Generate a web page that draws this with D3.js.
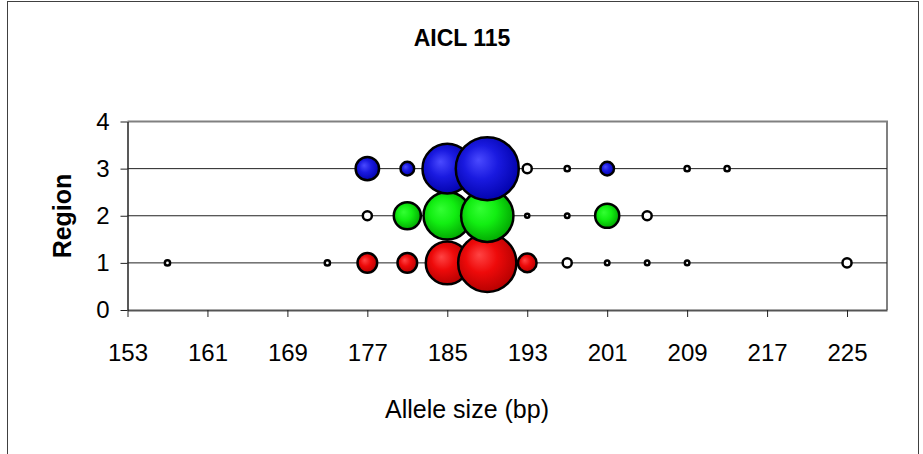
<!DOCTYPE html>
<html>
<head>
<meta charset="utf-8">
<script src="https://cdn.jsdelivr.net/npm/d3@7"></script>
<style>
  body { margin: 0; background: #fff; }
  text { font-family: "Liberation Sans", Arial, sans-serif; }
</style>
</head>
<body>
<script>
// allele sizes (bp) and their frequencies (%) for each region
var region1Sizes = [157, 173, 177, 181, 185, 189, 193, 197, 201, 205, 209, 225];
var region1Freq  = [0.4, 0.4, 5.6, 5.6, 27, 49.5, 5.1, 1.2, 0.3, 0.3, 0.3, 1.2];
var region2Sizes = [177, 181, 185, 189, 193, 197, 201, 205];
var region2Freq  = [1.2, 10.7, 33, 40, 0.25, 0.3, 8.5, 1.2];
var region3Sizes = [177, 181, 185, 189, 193, 197, 201, 209, 213];
var region3Freq  = [8, 2.7, 36, 58, 1.2, 0.4, 2.7, 0.4, 0.4];

var xTicks = [153, 161, 169, 177, 185, 193, 201, 209, 217, 225];
var yTicks = [0, 1, 2, 3, 4];

var width = 923, height = 454;
var plot = {left: 127.5, right: 887, top: 121.5, bottom: 310};

var svg = d3.select("body").append("svg")
    .attr("width", width)
    .attr("height", height);

// chart frame
svg.append("rect")
    .attr("x", 7.5).attr("y", 1.5)
    .attr("width", 911).attr("height", 470)
    .attr("fill", "#fff")
    .attr("stroke", "#404040");

var x = d3.scaleLinear().domain([153, 229]).range([plot.left, plot.right]);
var y = d3.scaleLinear().domain([0, 4]).range([plot.bottom, plot.top]);
var r = d3.scaleSqrt().domain([0, 58]).range([0, 31.5]);

// gradients for the bubbles
var defs = svg.append("defs");
var colours = {
    1: ["#ff4444", "#ee0a0a", "#b00000"],
    2: ["#33ff33", "#12ee12", "#00a000"],
    3: ["#4a4aff", "#1a1ae0", "#0000a8"]
};
Object.keys(colours).forEach(function(k) {
    var g = defs.append("radialGradient")
        .attr("id", "grad" + k)
        .attr("cx", 0.45).attr("cy", 0.45).attr("r", 0.6)
        .attr("fx", 0.36).attr("fy", 0.36);
    g.append("stop").attr("offset", "0%").attr("stop-color", colours[k][0]);
    g.append("stop").attr("offset", "45%").attr("stop-color", colours[k][1]);
    g.append("stop").attr("offset", "100%").attr("stop-color", colours[k][2]);
});

// plot border (grey) top and right
svg.append("path")
    .attr("d", "M" + plot.left + "," + plot.top + "H" + plot.right + "V" + plot.bottom)
    .attr("fill", "none")
    .attr("stroke", "#808080")
    .attr("stroke-width", 2);

// gridlines
svg.append("g").selectAll("line")
    .data([1, 2, 3])
    .enter().append("line")
    .attr("x1", plot.left).attr("x2", plot.right)
    .attr("y1", function(d) { return y(d); })
    .attr("y2", function(d) { return y(d); })
    .attr("stroke", "#222")
    .attr("stroke-width", 1);

// axes
var xAxis = svg.append("g")
    .attr("transform", "translate(0," + plot.bottom + ")")
    .call(d3.axisBottom(x).tickValues(xTicks).tickSize(7).tickPadding(27).tickSizeOuter(0));
xAxis.select(".domain").attr("stroke", "#555").attr("stroke-width", 2);
xAxis.selectAll(".tick line").attr("stroke", "#222");
xAxis.selectAll("text").attr("font-size", 24).attr("fill", "#000")
    .attr("font-family", "'Liberation Sans', Arial, sans-serif");

var yAxis = svg.append("g")
    .attr("transform", "translate(" + plot.left + ",0)")
    .call(d3.axisLeft(y).tickValues(yTicks).tickFormat(d3.format("d")).tickSize(7).tickPadding(11).tickSizeOuter(0));
yAxis.select(".domain").attr("stroke", "#222").attr("stroke-width", 1.5);
yAxis.selectAll(".tick line").attr("stroke", "#222");
yAxis.selectAll("text").attr("font-size", 24).attr("fill", "#000")
    .attr("font-family", "'Liberation Sans', Arial, sans-serif");

// bubbles: series in order, small bubbles first within a series
var series = [
    {region: 1, sizes: region1Sizes, freq: region1Freq},
    {region: 2, sizes: region2Sizes, freq: region2Freq},
    {region: 3, sizes: region3Sizes, freq: region3Freq}
];

series.forEach(function(s) {
    var pts = s.sizes.map(function(bp, i) { return {bp: bp, f: s.freq[i], region: s.region}; });
    pts.sort(function(a, b) { return a.f - b.f; });
    svg.append("g").selectAll("circle")
        .data(pts)
        .enter().append("circle")
        .attr("cx", function(d) { return x(d.bp); })
        .attr("cy", function(d) { return y(d.region); })
        .attr("r", function(d) { return r(d.f); })
        .attr("fill", function(d) { return d.f < 2 ? "#fff" : "url(#grad" + d.region + ")"; })
        .attr("stroke", "#000")
        .attr("stroke-width", 2.5);
});

// titles
svg.append("text")
    .attr("x", 462).attr("y", 46)
    .attr("text-anchor", "middle")
    .attr("font-size", 23).attr("font-weight", "bold")
    .text("AICL 115");

svg.append("text")
    .attr("x", 467).attr("y", 418)
    .attr("text-anchor", "middle")
    .attr("font-size", 25)
    .text("Allele size (bp)");

svg.append("text")
    .attr("transform", "translate(71,216) rotate(-90)")
    .attr("text-anchor", "middle")
    .attr("font-size", 25).attr("font-weight", "bold")
    .text("Region");
</script>
</body>
</html>
